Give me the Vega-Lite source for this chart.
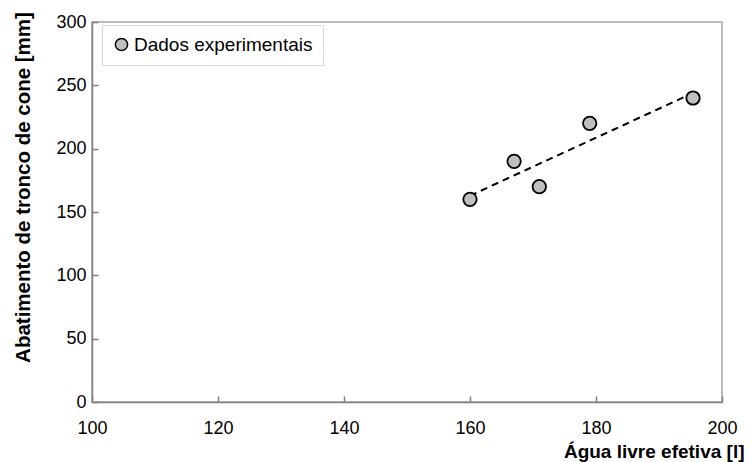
{
  "$schema": "https://vega.github.io/schema/vega-lite/v6.json",
  "width": 630,
  "height": 380,
  "autosize": "none",
  "padding": {"left": 92, "top": 22, "right": 29, "bottom": 60},
  "background": "white",
  "config": {
    "font": "Liberation Sans",
    "view": {"stroke": "#a6a6a6", "strokeWidth": 1.5},
    "axis": {
      "grid": false,
      "domainColor": "#7f7f7f",
      "domainWidth": 1.5,
      "tickColor": "#7f7f7f",
      "tickWidth": 1.5,
      "tickSize": -6,
      "labelFlush": false,
      "labelOverlap": false,
      "labelFont": "Liberation Sans",
      "labelFontSize": 18,
      "labelColor": "#000000",
      "titleFont": "Liberation Sans",
      "titleFontSize": 19,
      "titleFontWeight": "bold",
      "titleColor": "#000000"
    }
  },
  "data": {
    "values": [
      {"agua": 160, "abatimento": 160, "serie": "Dados experimentais"},
      {"agua": 167, "abatimento": 190, "serie": "Dados experimentais"},
      {"agua": 171, "abatimento": 170, "serie": "Dados experimentais"},
      {"agua": 179, "abatimento": 220, "serie": "Dados experimentais"},
      {"agua": 195.4, "abatimento": 240, "serie": "Dados experimentais"}
    ]
  },
  "layer": [
    {
      "transform": [{"regression": "abatimento", "on": "agua"}],
      "mark": {"type": "line", "color": "#000000", "strokeDash": [7, 5], "strokeWidth": 2},
      "encoding": {
        "x": {"field": "agua", "type": "quantitative"},
        "y": {"field": "abatimento", "type": "quantitative"}
      }
    },
    {
      "mark": {"type": "point", "filled": true, "opacity": 1, "stroke": "#000000", "strokeWidth": 1.8, "size": 180},
      "encoding": {
        "x": {
          "field": "agua", "type": "quantitative",
          "scale": {"domain": [100, 200], "nice": false, "zero": false},
          "axis": {
            "values": [100, 120, 140, 160, 180, 200],
            "title": "Água livre efetiva [l]",
            "labelPadding": 23,
            "titleAnchor": "end",
            "titleAlign": "right",
            "titleX": 652,
            "titleY": 55,
            "titleBaseline": "alphabetic"
          }
        },
        "y": {
          "field": "abatimento", "type": "quantitative",
          "scale": {"domain": [0, 300], "nice": false},
          "axis": {
            "values": [0, 50, 100, 150, 200, 250, 300],
            "title": "Abatimento de tronco de cone [mm]",
            "titleFontSize": 20.5,
            "labelPadding": 12,
            "titleX": -63,
            "titleY": 165,
            "titleAngle": -90,
            "titleAlign": "center",
            "titleBaseline": "alphabetic"
          }
        },
        "fill": {
          "field": "serie", "type": "nominal",
          "scale": {"range": ["#bfbfbf"]},
          "legend": {
            "title": null,
            "orient": "none",
            "legendX": 10,
            "legendY": 3,
            "offset": 0,
            "padding": 10,
            "strokeColor": "#d9d9d9",
            "fillColor": "white",
            "labelFont": "Liberation Sans",
            "labelFontSize": 19,
            "labelLimit": 0,
            "labelColor": "#000000",
            "symbolType": "circle",
            "symbolSize": 150,
            "symbolStrokeColor": "#000000",
            "symbolStrokeWidth": 1.5,
            "symbolFillColor": "#bfbfbf",
            "labelOffset": 3
          }
        }
      }
    }
  ]
}
